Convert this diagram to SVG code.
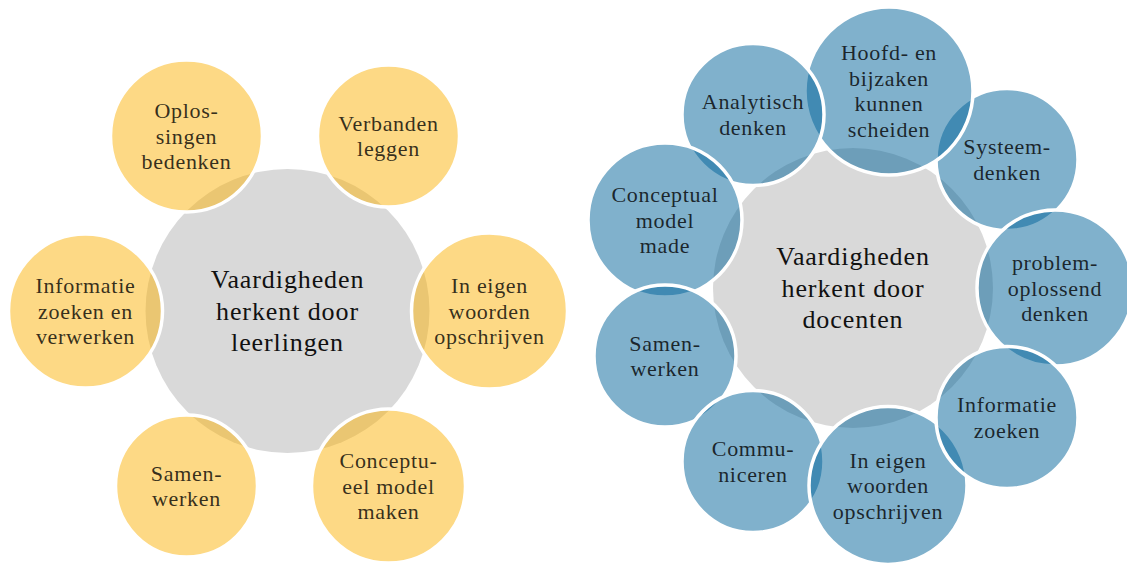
<svg xmlns="http://www.w3.org/2000/svg" width="1127" height="565" viewBox="0 0 1127 565">
  <style>
    .hub { fill: #d9d9d9; }
    .gold { fill: #fbb40b; fill-opacity: 0.5; stroke: #ffffff; stroke-width: 3.5; }
    .blue { fill: #016399; fill-opacity: 0.5; stroke: #ffffff; stroke-width: 3.5; }
    .lbl { font-size: 22px; letter-spacing: 0.7px; fill: #000000; fill-opacity: 0.8; text-anchor: middle; }
    .title { font-size: 26px; letter-spacing: 0.9px; fill: #111111; text-anchor: middle; }
  </style>
  <rect width="1127" height="565" fill="#ffffff"/>

  <!-- Left cycle: skills recognised by pupils -->
  <g id="pupils" font-family="'Liberation Serif', 'DejaVu Serif', serif">
    <g id="hub-pupils">
      <circle class="hub" cx="287.5" cy="311" r="142"/>
      <text class="title"><tspan x="287.5" y="288">Vaardigheden</tspan><tspan x="287.5" y="319.5">herkent door</tspan><tspan x="287.5" y="351">leerlingen</tspan></text>
    </g>
    <g id="p-in-eigen-woorden">
      <circle class="gold" cx="489.5" cy="311" r="78"/>
      <text class="lbl"><tspan x="489.5" y="293">In eigen</tspan><tspan x="489.5" y="318.5">woorden</tspan><tspan x="489.5" y="344">opschrijven</tspan></text>
    </g>
    <g id="p-verbanden">
      <circle class="gold" cx="388.5" cy="136" r="71"/>
      <text class="lbl"><tspan x="388.5" y="130.75">Verbanden</tspan><tspan x="388.5" y="156.25">leggen</tspan></text>
    </g>
    <g id="p-oplossingen">
      <circle class="gold" cx="186.5" cy="136" r="76"/>
      <text class="lbl"><tspan x="186.5" y="118">Oplos-</tspan><tspan x="186.5" y="143.5">singen</tspan><tspan x="186.5" y="169">bedenken</tspan></text>
    </g>
    <g id="p-informatie">
      <circle class="gold" cx="85.5" cy="311" r="77"/>
      <text class="lbl"><tspan x="85.5" y="293">Informatie</tspan><tspan x="85.5" y="318.5">zoeken en</tspan><tspan x="85.5" y="344">verwerken</tspan></text>
    </g>
    <g id="p-samenwerken">
      <circle class="gold" cx="186.5" cy="486" r="71"/>
      <text class="lbl"><tspan x="186.5" y="480.75">Samen-</tspan><tspan x="186.5" y="506.25">werken</tspan></text>
    </g>
    <g id="p-conceptueel">
      <circle class="gold" cx="388.5" cy="486" r="77"/>
      <text class="lbl"><tspan x="388.5" y="468">Conceptu-</tspan><tspan x="388.5" y="493.5">eel model</tspan><tspan x="388.5" y="519">maken</tspan></text>
    </g>
  </g>

  <!-- Right cycle: skills recognised by teachers -->
  <g id="teachers" font-family="'Liberation Serif', 'DejaVu Serif', serif">
    <g id="hub-teachers">
      <circle class="hub" cx="853" cy="288" r="140"/>
      <text class="title"><tspan x="853" y="265">Vaardigheden</tspan><tspan x="853" y="296.5">herkent door</tspan><tspan x="853" y="328">docenten</tspan></text>
    </g>
    <g id="t-systeemdenken">
      <circle class="blue" cx="1007" cy="159.5" r="71"/>
      <text class="lbl"><tspan x="1007" y="154.25">Systeem-</tspan><tspan x="1007" y="179.75">denken</tspan></text>
    </g>
    <g id="t-probleemoplossend">
      <circle class="blue" cx="1055" cy="288" r="78"/>
      <text class="lbl"><tspan x="1055" y="270">problem-</tspan><tspan x="1055" y="295.5">oplossend</tspan><tspan x="1055" y="321">denken</tspan></text>
    </g>
    <g id="t-hoofd-bijzaken">
      <circle class="blue" cx="889" cy="91" r="84"/>
      <text class="lbl"><tspan x="889" y="60.25">Hoofd- en</tspan><tspan x="889" y="85.75">bijzaken</tspan><tspan x="889" y="111.25">kunnen</tspan><tspan x="889" y="136.75">scheiden</tspan></text>
    </g>
    <g id="t-analytisch">
      <circle class="blue" cx="753" cy="114.5" r="71"/>
      <text class="lbl"><tspan x="753" y="109.25">Analytisch</tspan><tspan x="753" y="134.75">denken</tspan></text>
    </g>
    <g id="t-conceptual">
      <circle class="blue" cx="665" cy="220" r="77"/>
      <text class="lbl"><tspan x="665" y="202">Conceptual</tspan><tspan x="665" y="227.5">model</tspan><tspan x="665" y="253">made</tspan></text>
    </g>
    <g id="t-samenwerken">
      <circle class="blue" cx="665" cy="356" r="71"/>
      <text class="lbl"><tspan x="665" y="350.75">Samen-</tspan><tspan x="665" y="376.25">werken</tspan></text>
    </g>
    <g id="t-communiceren">
      <circle class="blue" cx="753" cy="461.5" r="71"/>
      <text class="lbl"><tspan x="753" y="456.25">Commu-</tspan><tspan x="753" y="481.75">niceren</tspan></text>
    </g>
    <g id="t-in-eigen-woorden">
      <circle class="blue" cx="888" cy="485.5" r="79"/>
      <text class="lbl"><tspan x="888" y="467.5">In eigen</tspan><tspan x="888" y="493">woorden</tspan><tspan x="888" y="518.5">opschrijven</tspan></text>
    </g>
    <g id="t-informatie">
      <circle class="blue" cx="1007" cy="417.5" r="71"/>
      <text class="lbl"><tspan x="1007" y="412.25">Informatie</tspan><tspan x="1007" y="437.75">zoeken</tspan></text>
    </g>
  </g>
</svg>
